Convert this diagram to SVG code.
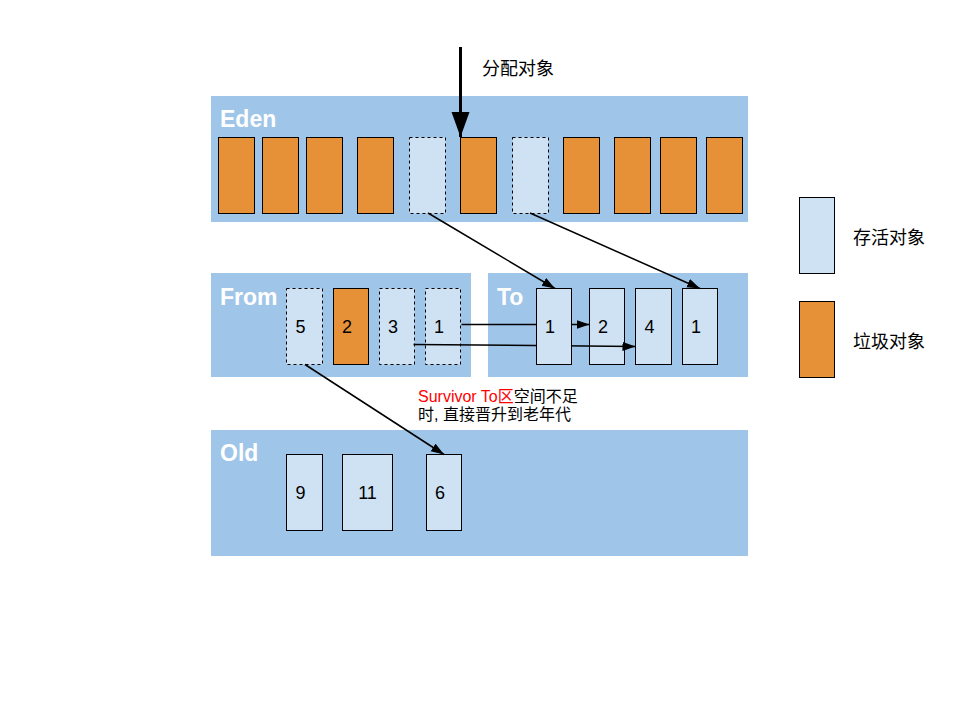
<svg xmlns="http://www.w3.org/2000/svg" width="960" height="720" viewBox="0 0 960 720">
<defs>
<style>
.region{fill:#9fc5e8;}
.rlabel{fill:#ffffff;font-family:"Liberation Sans",Arial,sans-serif;font-weight:bold;font-size:23px;}
.live{fill:#cfe2f3;stroke:#000;stroke-width:1;}
.dead{fill:#e69138;stroke:#000;stroke-width:1;}
.dash{stroke-dasharray:3,3;}
.num{font-family:"Liberation Sans",Arial,sans-serif;font-size:18px;fill:#000;text-anchor:middle;}
.cn{font-family:"Liberation Sans","Noto Sans CJK SC",sans-serif;font-size:16px;fill:#000;}
.conn{stroke:#000;stroke-width:1.5;fill:none;marker-end:url(#ah);}
</style>
<marker id="ah" markerUnits="userSpaceOnUse" markerWidth="14" markerHeight="12" refX="13" refY="4.5" orient="auto">
<path d="M0,0 L13,4.5 L0,9 z" fill="#000"/>
</marker>
<marker id="bigah" markerUnits="userSpaceOnUse" markerWidth="26" markerHeight="20" refX="25" refY="9" orient="auto">
<path d="M0,0 L25,9 L0,18 z" fill="#000"/>
</marker>
</defs>
<rect width="960" height="720" fill="#fff"/>

<g id="eden">
<rect class="region" x="211" y="96" width="537" height="126"/>
<text class="rlabel" x="220" y="127">Eden</text>
<rect class="dead" x="218.5" y="137.5" width="36" height="76"/>
<rect class="dead" x="262.5" y="137.5" width="36" height="76"/>
<rect class="dead" x="306.5" y="137.5" width="36" height="76"/>
<rect class="dead" x="357.5" y="137.5" width="36" height="76"/>
<rect class="live dash" x="409.5" y="137.5" width="36" height="76"/>
<rect class="dead" x="460.5" y="137.5" width="36" height="76"/>
<rect class="live dash" x="512.5" y="137.5" width="36" height="76"/>
<rect class="dead" x="563.5" y="137.5" width="36" height="76"/>
<rect class="dead" x="614.5" y="137.5" width="36" height="76"/>
<rect class="dead" x="660.5" y="137.5" width="36" height="76"/>
<rect class="dead" x="706.5" y="137.5" width="36" height="76"/>
</g>

<g id="from">
<rect class="region" x="211" y="273" width="260" height="104"/>
<text class="rlabel" x="220" y="305">From</text>
<rect class="live dash" x="286.5" y="288.5" width="36" height="76"/>
<text class="num" x="300.5" y="333">5</text>
<rect class="dead" x="333.5" y="288.5" width="35" height="76"/>
<text class="num" x="347" y="333">2</text>
<rect class="live dash" x="379.5" y="288.5" width="35" height="76"/>
<text class="num" x="393" y="333">3</text>
<rect class="live dash" x="425.5" y="288.5" width="35" height="76"/>
<text class="num" x="439" y="333">1</text>
</g>

<g id="to">
<rect class="region" x="488" y="273" width="260" height="104"/>
<text class="rlabel" x="497" y="305">To</text>
<rect class="live" x="589.5" y="288.5" width="35" height="76"/>
<text class="num" x="603" y="333">2</text>
<rect class="live" x="635.5" y="288.5" width="36" height="76"/>
<text class="num" x="649.5" y="333">4</text>
<rect class="live" x="682.5" y="288.5" width="35" height="76"/>
<text class="num" x="696" y="333">1</text>
</g>

<g id="old">
<rect class="region" x="211" y="430" width="537" height="126"/>
<text class="rlabel" x="220" y="461">Old</text>
<rect class="live" x="286.5" y="454.5" width="36" height="76"/>
<text class="num" x="300.5" y="499">9</text>
<rect class="live" x="342.5" y="454.5" width="50" height="76"/>
<text class="num" x="367.5" y="499">11</text>
<rect class="live" x="426.5" y="454.5" width="35" height="76"/>
<text class="num" x="440" y="499">6</text>
</g>

<g id="connectors">
<line x1="460.5" y1="47" x2="460.5" y2="137" stroke="#000" stroke-width="3" marker-end="url(#bigah)"/>
<line class="conn" x1="428" y1="213" x2="555" y2="288.5"/>
<line class="conn" x1="530" y1="213" x2="700" y2="288.5"/>
<line class="conn" x1="461.5" y1="324.5" x2="589.5" y2="324.5"/>
<line class="conn" x1="413.5" y1="344.5" x2="635.5" y2="346.5"/>
<line class="conn" x1="305" y1="364.5" x2="444" y2="454.5"/>
</g>

<g id="to-box-1">
<rect class="live" x="536.5" y="288.5" width="35" height="76"/>
<text class="num" x="550" y="333">1</text>
</g>

<g id="label-alloc">
<text class="cn" x="482" y="75" style="font-size:18px">分配对象</text>
</g>

<g id="label-note">
<text class="cn" x="418" y="402"><tspan fill="#ff0000">Survivor To区</tspan>空间不足</text>
<text class="cn" x="418" y="420">时, 直接晋升到老年代</text>
</g>

<g id="legend-live">
<rect class="live" x="799.5" y="197.5" width="35" height="76"/>
<text class="cn" x="853" y="244" style="font-size:18px">存活对象</text>
</g>
<g id="legend-dead">
<rect class="dead" x="799.5" y="301.5" width="35" height="76"/>
<text class="cn" x="853" y="348" style="font-size:18px">垃圾对象</text>
</g>
</svg>
